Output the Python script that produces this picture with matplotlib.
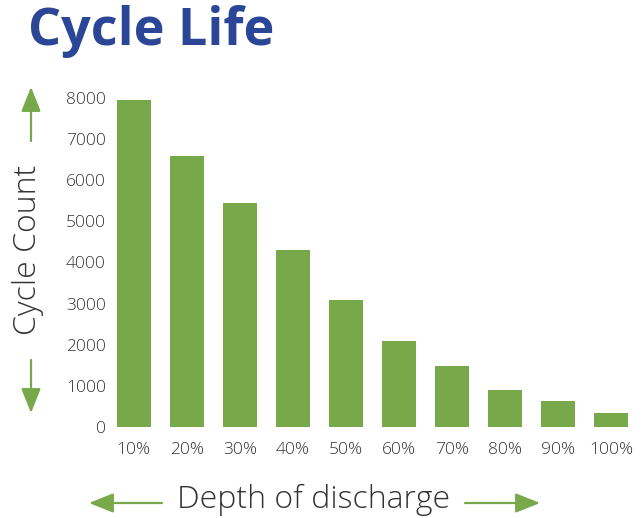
import matplotlib.pyplot as plt

depth_labels = ["10%", "20%", "30%", "40%", "50%", "60%", "70%", "80%", "90%", "100%"]
cycle_counts = [7950, 6600, 5450, 4300, 3100, 2100, 1480, 900, 640, 340]
y_ticks = [0, 1000, 2000, 3000, 4000, 5000, 6000, 7000, 8000]

green = "#77a84a"
text_gray = "#333333"
plt.rcParams["font.family"] = ["Open Sans", "DejaVu Sans"]
plt.rcParams["font.weight"] = "light"

fig = plt.figure(figsize=(6.42, 5.18), dpi=100)
ax = fig.add_axes([107.2 / 642, 91 / 518, 530.6 / 642, 329 / 518])

ax.bar(range(len(cycle_counts)), cycle_counts, width=0.64, color=green)
ax.set_xlim(-0.5, 9.5)
ax.set_ylim(0, 8000)
ax.set_xticks(range(len(depth_labels)))
ax.set_xticklabels(depth_labels)
ax.set_yticks(y_ticks)
ax.tick_params(axis="both", length=0, labelsize=12.5, colors=text_gray)
ax.tick_params(axis="x", pad=11)
ax.tick_params(axis="y", pad=1)
for s in ax.spines.values():
    s.set_visible(False)

# title and axis captions
fig.text(28 / 642, 1 - 32 / 518, "Cycle Life", fontsize=37.5, fontweight="bold",
         color="#2b4696", ha="left", va="center")
fig.text(28 / 642, 1 - 250 / 518, "Cycle Count", fontsize=23, color=text_gray,
         rotation=90, ha="center", va="center")
fig.text(314 / 642, 1 - 500 / 518, "Depth of discharge", fontsize=23, color=text_gray,
         ha="center", va="center")

# green arrows
arrow_style = dict(arrowstyle="-|>,head_length=1.5,head_width=0.6", color=green,
                   lw=1.6, mutation_scale=10, shrinkA=0, shrinkB=0)
arrows = [((31, 377), (31, 431)), ((31, 158), (31, 105)),
          ((162, 15), (89, 15)), ((465, 15), (540, 15))]
for start, tip in arrows:
    ax.annotate("", xy=tip, xytext=start, xycoords="figure pixels",
                textcoords="figure pixels", arrowprops=arrow_style)

fig.savefig("out.png", dpi=100)
